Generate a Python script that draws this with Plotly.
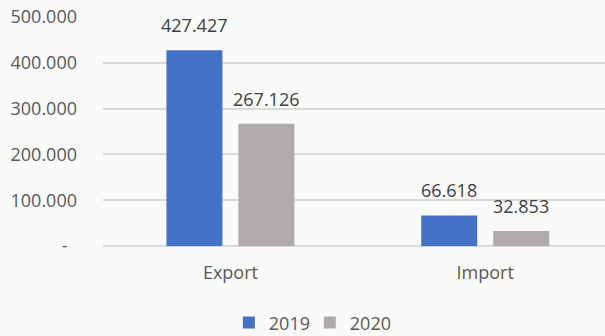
import plotly.graph_objects as go

categories = ["Export", "Import"]
values_2019 = [427427, 66618]
values_2020 = [267126, 32853]
tick_values = [0, 100000, 200000, 300000, 400000, 500000]
tick_labels = ["-\u00a0\u00a0", "100.000", "200.000", "300.000", "400.000", "500.000"]

FONT = "Open Sans"
TEXT = "#595959"
LABEL = "#404040"

series = [
    ("2019", values_2019, "#4472C4", -36),
    ("2020", values_2020, "#AFABAB", 36),
]

fig = go.Figure()
annotations = []
for name, vals, color, shift in series:
    fig.add_trace(go.Bar(
        name=name, x=categories, y=vals,
        marker=dict(color=color, line=dict(width=0)),
    ))
    # value labels sit a little above each bar
    for cat, v in zip(categories, vals):
        annotations.append(dict(
            x=cat, y=v, xref="x", yref="y",
            text=f"{v:,.0f}".replace(",", "."),
            showarrow=False, xanchor="center", yanchor="bottom",
            xshift=shift, yshift=11,
            font=dict(family=FONT, size=18, color=LABEL),
        ))

fig.update_layout(
    width=605, height=336,
    margin=dict(l=103, r=0, t=17, b=90, autoexpand=False),
    paper_bgcolor="#FAFAFA", plot_bgcolor="#FAFAFA",
    separators=",.",
    barmode="group", bargap=0.435, bargroupgap=0.222,
    font=dict(family=FONT, size=18, color=TEXT),
    showlegend=True,
    legend=dict(
        orientation="h", x=0.412, xanchor="center",
        yref="container", y=0.039, yanchor="middle",
        font=dict(family=FONT, size=18, color=TEXT),
        bgcolor="rgba(0,0,0,0)", itemwidth=30, entrywidth=36,
        traceorder="normal",
    ),
    annotations=annotations,
)
fig.update_xaxes(
    type="category", range=[-0.5, 1.47], automargin=False,
    showgrid=False, showline=False, zeroline=False, ticks="",
    ticklabelstandoff=14,
    tickfont=dict(family=FONT, size=18, color=TEXT),
)
fig.update_yaxes(
    range=[0, 500000], tickvals=tick_values, ticktext=tick_labels,
    automargin=False,
    showgrid=True, gridcolor="#D9D9D9", gridwidth=2,
    zeroline=True, zerolinecolor="#D9D9D9", zerolinewidth=2,
    showline=False, ticks="", ticklabelstandoff=25,
    tickfont=dict(family=FONT, size=18, color=TEXT),
)

fig.write_html("out.html")
